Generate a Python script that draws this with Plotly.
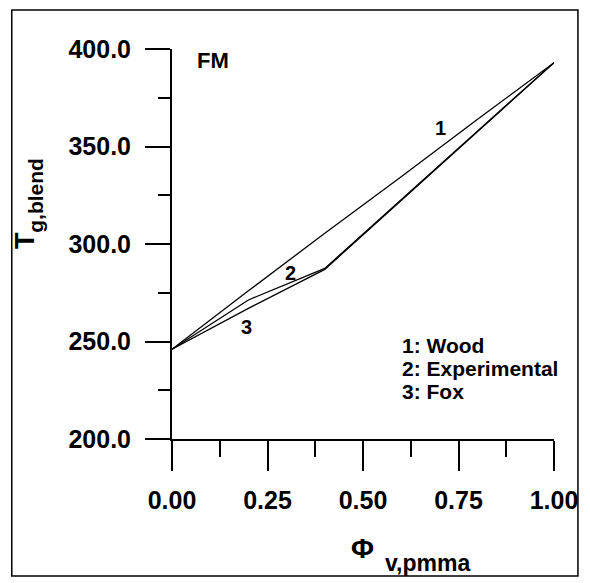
import plotly.graph_objects as go

# ---- data ----
phi_pmma = [0.0, 0.2, 0.4, 0.6, 0.8, 1.0]
tg_wood = [246.0, 276.0, 305.5, 334.5, 364.0, 393.0]
tg_experimental = [246.0, 271.3, 287.5, 323.0, 358.0, 393.0]
tg_fox = [246.0, 267.0, 287.0, 322.5, 357.5, 393.0]

x_ticks = [0.0, 0.25, 0.5, 0.75, 1.0]
x_tick_text = ["0.00", "0.25", "0.50", "0.75", "1.00"]
y_ticks = [200, 250, 300, 350, 400]
y_tick_text = ["200.0", "250.0", "300.0", "350.0", "400.0"]

curve_labels = ["1", "2", "3"]
legend_lines = ["1: Wood", "2: Experimental", "3: Fox"]

# ---- layout geometry (page pixels; the page body adds an 8px offset) ----
OFF = 8
W, H = 582, 575
L, R = 171.5 - OFF, 562.5 - OFF
T, B = 49.0 - OFF, 439.0 - OFF
PW, PH = R - L, B - T

def pxx(x):
    return (x - OFF - L) / PW

def pxy(y):
    return (B - (y - OFF)) / PH

FONT = "Liberation Sans, Arial, Helvetica, sans-serif"

fig = go.Figure()
for ys in (tg_wood, tg_experimental, tg_fox):
    fig.add_trace(go.Scatter(x=phi_pmma, y=ys, mode="lines",
                             line=dict(color="black", width=1.3),
                             showlegend=False, hoverinfo="skip"))

axis_common = dict(showline=True, linecolor="black", linewidth=2,
                   ticks="outside", tickcolor="black", tickwidth=2,
                   showgrid=False, zeroline=False,
                   tickfont=dict(family=FONT, size=25, color="black", weight="bold"))

fig.update_xaxes(range=[0, 1], tickvals=x_ticks, ticktext=x_tick_text,
                 ticklen=30, ticklabelstandoff=8,
                 minor=dict(ticks="outside", dtick=0.125, tick0=0, ticklen=16,
                            tickwidth=2, tickcolor="black", showgrid=False),
                 **axis_common)
fig.update_yaxes(range=[200, 400], tickvals=y_ticks, ticktext=y_tick_text,
                 ticklen=25, ticklabelstandoff=9,
                 minor=dict(ticks="outside", dtick=25, tick0=200, ticklen=12,
                            tickwidth=2, tickcolor="black", showgrid=False),
                 **axis_common)

ann = []
def add_text(text, x, y, size, xanchor="center", yanchor="middle", angle=0):
    ann.append(dict(text=text, x=pxx(x), y=pxy(y), xref="paper", yref="paper",
                    showarrow=False, xanchor=xanchor, yanchor=yanchor,
                    textangle=angle,
                    font=dict(family=FONT, size=size, color="black", weight="bold")))

add_text("FM", 213, 60, 22)
add_text(curve_labels[0], 446, 128, 20)
add_text(curve_labels[1], 293, 273, 20)
add_text(curve_labels[2], 248, 327, 20)
for i, t in enumerate(legend_lines):
    add_text(t, 405, 345 + 23 * i, 21, xanchor="left")

# axis titles
add_text("Φ", 366, 548, 28)
add_text("v,pmma", 387, 563, 23, xanchor="left")
add_text("T", 21, 240, 27, angle=-90)
add_text("g,blend", 31, 195, 21, angle=-90)

fig.update_layout(
    width=W, height=H,
    margin=dict(l=L, r=W - R, t=T, b=H - B, pad=0),
    paper_bgcolor="white", plot_bgcolor="white",
    annotations=ann,
    shapes=[dict(type="rect", xref="paper", yref="paper",
                 x0=pxx(7.5), x1=pxx(587), y0=pxy(576), y1=pxy(10),
                 line=dict(color="black", width=1.5), layer="below")],
)

fig.write_html("out.html")
